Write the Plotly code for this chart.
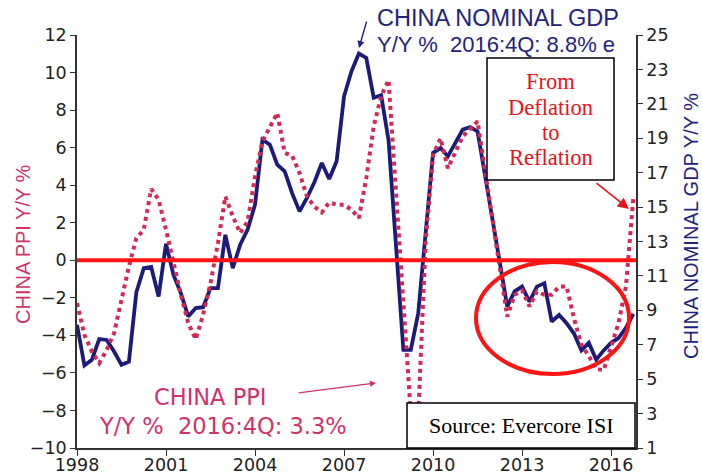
import plotly.graph_objects as go

# ---------------- data ----------------
# China nominal GDP, Y/Y %, right axis (quarterly, decimal year)
gdp_t = [1998.00, 1998.25, 1998.50, 1998.75, 1999.00, 1999.25, 1999.50, 1999.75,
         2000.00, 2000.25, 2000.50, 2000.75, 2001.00, 2001.25, 2001.50, 2001.75,
         2002.00, 2002.25, 2002.50, 2002.75, 2003.00, 2003.25, 2003.50, 2003.75,
         2004.00, 2004.25, 2004.50, 2004.75, 2005.00, 2005.25, 2005.50, 2005.75,
         2006.00, 2006.25, 2006.50, 2006.75, 2007.00, 2007.25, 2007.50, 2007.75,
         2008.00, 2008.25, 2008.50, 2009.00, 2009.25, 2009.50, 2010.00,
         2010.25, 2010.50, 2010.75, 2011.00, 2011.25, 2011.50, 2012.50, 2012.75,
         2013.00, 2013.25, 2013.50, 2013.75, 2014.00, 2014.25, 2014.50, 2014.75,
         2015.00, 2015.25, 2015.50, 2015.75, 2016.00, 2016.25, 2016.50, 2016.75]
gdp_v = [8.16, 5.80, 6.13, 7.33, 7.28, 6.61, 5.83, 6.02,
         10.05, 11.45, 11.52, 9.80, 12.87, 11.07, 10.00, 8.64,
         9.13, 9.18, 10.29, 10.29, 13.39, 11.45, 12.81, 13.69,
         15.14, 18.92, 18.63, 17.46, 17.08, 15.81, 14.75, 15.53,
         16.44, 17.56, 16.63, 17.66, 21.44, 22.89, 23.92, 23.67,
         21.35, 21.50, 18.89, 6.70, 6.70, 8.83, 18.15,
         18.43, 17.95, 18.73, 19.50, 19.65, 19.40, 9.23, 10.10,
         10.38, 9.51, 10.38, 10.58, 8.35, 8.73, 8.25, 7.65,
         6.67, 7.11, 6.13, 6.67, 7.11, 7.38, 7.98, 8.80]

# China PPI, Y/Y %, left axis
ppi_t = [1998.00, 1998.25, 1998.50, 1998.75, 1999.00, 1999.25, 1999.50, 1999.75,
         2000.00, 2000.25, 2000.50, 2000.75, 2001.00, 2001.25, 2001.50, 2001.75,
         2002.00, 2002.25, 2002.50, 2002.75, 2003.00, 2003.25, 2003.50, 2003.75,
         2004.00, 2004.25, 2004.50, 2004.75, 2005.00, 2005.25, 2005.50, 2005.75,
         2006.00, 2006.25, 2006.50, 2006.75, 2007.00, 2007.25, 2007.50, 2007.75,
         2008.00, 2008.25, 2008.50, 2009.25, 2009.50, 2009.75, 2010.00,
         2010.25, 2010.50, 2010.75, 2011.00, 2011.25, 2011.50, 2012.50, 2012.75,
         2013.00, 2013.25, 2013.50, 2013.75, 2014.00, 2014.25, 2014.50, 2014.75,
         2015.00, 2015.25, 2015.50, 2015.75, 2016.00, 2016.25, 2016.50, 2016.75]
ppi_v = [-2.28, -3.97, -4.86, -5.48, -4.77, -3.88, -2.10, -0.33,
         1.18, 1.63, 3.80, 3.23, 1.63, -0.15, -1.84, -3.35,
         -4.20, -2.91, -1.22, 0.92, 3.40, 2.34, 1.45, 2.07,
         4.47, 6.34, 7.14, 7.85, 5.72, 5.57, 4.65, 3.40,
         2.86, 2.55, 3.08, 2.96, 2.96, 2.69, 2.25, 4.38,
         7.14, 8.74, 9.60, -8.20, -8.30, 1.00, 5.60,
         6.50, 4.90, 5.70, 6.60, 7.00, 7.40, -3.00, -1.84,
         -1.60, -2.46, -1.66, -1.84, -1.84, -1.40, -1.40, -3.10,
         -4.50, -5.10, -5.80, -5.85, -4.60, -3.35, -1.40, 3.30]

x_ticks = [1998, 2001, 2004, 2007, 2010, 2013, 2016]
left_ticks = [-10, -8, -6, -4, -2, 0, 2, 4, 6, 8, 10, 12]
right_ticks = [1, 3, 5, 7, 9, 11, 13, 15, 17, 19, 21, 23, 25]

box_lines = ["From", "Deflation", "to", "Reflation"]

# ---------------- styling ----------------
NAVY = "#1c1c78"
CRIMSON = "#d12a55"
RED = "#ff1414"
AXIS = "#333333"
TICKFONT = dict(family="DejaVu Sans", size=17.5, color="#222222")

W, H = 702, 476
ML, MR, MT, MB = 77, 66, 35, 28
PW, PH = W - ML - MR, H - MT - MB


def px(xp):
    return (xp - ML) / PW


def py(yp):
    return (H - MB - yp) / PH


fig = go.Figure()
fig.add_trace(go.Scatter(x=gdp_t, y=gdp_v, mode="lines", yaxis="y",
                         line=dict(color=NAVY, width=3.8), showlegend=False,
                         name="China nominal GDP"))
fig.add_trace(go.Scatter(x=ppi_t, y=ppi_v, mode="lines", yaxis="y2",
                         line=dict(color=CRIMSON, width=4, dash="dot"),
                         showlegend=False, name="China PPI"))

shapes = [
    dict(type="line", xref="paper", yref="y2", x0=0, x1=1, y0=0, y1=0,
         line=dict(color=RED, width=4), layer="above"),
    dict(type="circle", xref="paper", yref="paper",
         x0=px(476), x1=px(629), y0=py(374), y1=py(262),
         line=dict(color=RED, width=4), layer="above"),
    dict(type="rect", xref="paper", yref="paper",
         x0=px(487), x1=px(614), y0=py(180), y1=py(58),
         line=dict(color="black", width=1.5), fillcolor="white", layer="above"),
    dict(type="rect", xref="paper", yref="paper",
         x0=px(407), x1=px(635), y0=py(448), y1=py(403),
         line=dict(color="black", width=1.5), fillcolor="white", layer="above"),
]


def label(text, x, y, font, xanchor="center", angle=0):
    return dict(text=text, xref="paper", yref="paper", x=px(x), y=py(y),
                xanchor=xanchor, yanchor="middle", showarrow=False,
                textangle=angle, font=font)


def arrow(xh, yh, ax, ay, color, width, size):
    return dict(text="", xref="paper", yref="paper", x=px(xh), y=py(yh),
                ax=ax, ay=ay, showarrow=True, arrowhead=2, arrowsize=size,
                arrowwidth=width, arrowcolor=color)


SERIF_RED = dict(family="Liberation Serif", size=22.5, color="#e8141c")
GDP_FONT1 = dict(family="Liberation Sans", size=23.5, color="#23237e")
GDP_FONT2 = dict(family="Liberation Sans", size=22, color="#23237e")
PPI_FONT = dict(family="DejaVu Sans", size=22.5, color="#d0336a")

annotations = []
for txt, yy in zip(box_lines, [82, 107.3, 132.5, 157.5]):
    annotations.append(label(txt, 550.5, yy, SERIF_RED))
annotations += [
    label("Source: Evercore ISI", 521, 425,
          dict(family="Liberation Serif", size=22, color="black")),
    arrow(629, 209, -34, -27, "#e8141c", 1.6, 1.4),
    label("CHINA NOMINAL GDP", 375, 18, GDP_FONT1, xanchor="left"),
    label("Y/Y %&nbsp; 2016:4Q: 8.8% e", 375, 44, GDP_FONT2, xanchor="left"),
    arrow(359, 48, 8, -28, "#23237e", 1.4, 1),
    label("CHINA PPI", 152, 397, PPI_FONT, xanchor="left"),
    label("Y/Y %&nbsp; 2016:4Q: 3.3%", 97, 426, PPI_FONT, xanchor="left"),
    arrow(376, 383, -79, 10, "#d0336a", 1.2, 1),
    label("CHINA PPI Y/Y %", 23, 244,
          dict(family="Liberation Sans", size=20, color="#d0336a"), angle=-90),
    label("CHINA NOMINAL GDP Y/Y %", 691, 226,
          dict(family="Liberation Sans", size=20, color="#23237e"), angle=-90),
]

common_axis = dict(ticks="outside", tickwidth=1.2, tickcolor=AXIS,
                   showline=True, linecolor=AXIS, linewidth=1.5, showgrid=False,
                   zeroline=False, tickfont=TICKFONT, automargin=False)

fig.update_layout(
    width=W, height=H, autosize=False,
    margin=dict(l=ML, r=MR, t=MT, b=MB, pad=0),
    paper_bgcolor="white", plot_bgcolor="white",
    showlegend=False,
    xaxis=dict(range=[1998, 2016.84], tickvals=x_ticks,
               ticktext=[str(v) for v in x_ticks], ticklen=6,
               ticklabelstandoff=-6, **common_axis),
    yaxis=dict(range=[1, 25], tickvals=right_ticks, side="right", ticklen=5,
               **common_axis),
    yaxis2=dict(range=[-10, 12], tickvals=left_ticks, side="left", overlaying="y",
                ticklen=5, **common_axis),
    shapes=shapes,
    annotations=annotations,
)

fig.write_html(
    "out.html",
    config={"displayModeBar": False},
    post_script="document.body.style.margin='0';"
                "document.documentElement.style.overflow='hidden';"
                "document.body.style.overflow='hidden';",
)
